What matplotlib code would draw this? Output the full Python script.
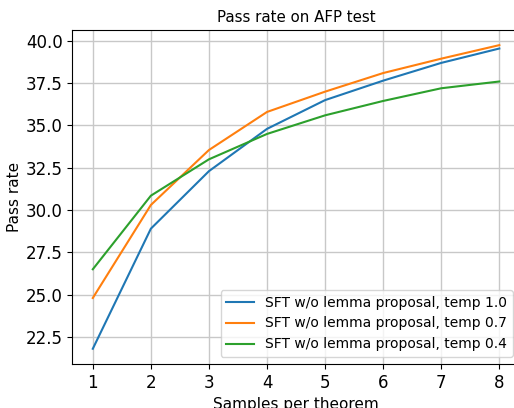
import matplotlib
matplotlib.use("Agg")
import matplotlib.pyplot as plt

samples = [1, 2, 3, 4, 5, 6, 7, 8]
temp_10 = [21.8, 28.9, 32.3, 34.8, 36.5, 37.65, 38.7, 39.55]
temp_07 = [24.8, 30.3, 33.55, 35.8, 37.0, 38.1, 38.95, 39.75]
temp_04 = [26.5, 30.85, 33.0, 34.5, 35.6, 36.45, 37.2, 37.6]
labels = ["SFT w/o lemma proposal, temp 1.0",
          "SFT w/o lemma proposal, temp 0.7",
          "SFT w/o lemma proposal, temp 0.4"]

fig = plt.figure(figsize=(5.14, 4.08), dpi=100)
ax = fig.add_axes([0.141, 0.108, 0.870, 0.8186])
for ys, lab in zip([temp_10, temp_07, temp_04], labels):
    ax.plot(samples, ys, label=lab)
ax.set_title("Pass rate on AFP test", fontsize=10.8)
ax.set_xlabel("Samples per theorem", fontsize=11)
ax.set_ylabel("Pass rate", fontsize=11, labelpad=3)
ax.set_xticks(samples)
ax.set_yticks([22.5, 25.0, 27.5, 30.0, 32.5, 35.0, 37.5, 40.0])
ax.tick_params(labelsize=12)
ax.grid(True, color="#c8c8c8", linewidth=1.0)
ax.legend(loc="lower right", fontsize=10)
fig.savefig("out.png", dpi=100)
